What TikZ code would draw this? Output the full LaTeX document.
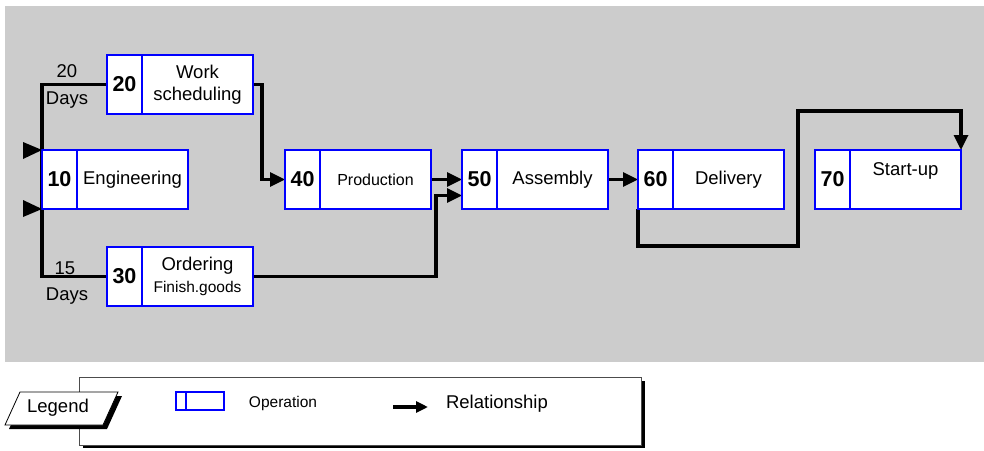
\documentclass[tikz,border=0pt]{standalone}
\usepackage{fontspec}
\setmainfont{Liberation Sans}
\usetikzlibrary{positioning,arrows.meta,backgrounds}

\definecolor{panelgray}{RGB}{204,204,204}
\newcommand{\opfont}{\fontsize{18.5}{21.5}\selectfont}
\newcommand{\numfont}{\fontsize{21.5}{24}\selectfont\bfseries}
\newcommand{\smallfont}{\fontsize{15.5}{18}\selectfont}

\tikzset{
  opnum/.style={draw=blue, line width=2.8pt, fill=white, inner sep=0pt, outer sep=0pt,
    minimum width=35pt, minimum height=59pt, font=\numfont},
  optext/.style={draw=blue, line width=2.8pt, fill=white, inner sep=0pt, outer sep=0pt,
    minimum width=111pt, minimum height=59pt, align=center, font=\opfont},
  link/.style={line width=3.2pt},
  rel/.style={link, -{Triangle[length=15pt,width=14pt]}},
}

\begin{document}
\begin{tikzpicture}[x=1pt, y=-1pt]
  \useasboundingbox (0,0) rectangle (984,450);
  %
  \node[opnum, anchor=north west] (n20num) at (107,55) {20};   % first column
  \node[optext, right=0pt of n20num] (n20) {Work\\scheduling};
  \node[opnum, anchor=north west] (n10num) at (42,150) {10};
  \node[optext, right=0pt of n10num] (n10) {Engineering};
  \node[opnum, anchor=north west] (n30num) at (107,247) {30};
  \node[optext, right=0pt of n30num] (n30)
    {Ordering\\{\fontsize{15.5}{18}\selectfont Finish.goods}};
  %
  \node[opnum, anchor=north west] (n40num) at (285,150) {40};  % main row
  \node[optext, right=0pt of n40num, font=\fontsize{16}{19}\selectfont] (n40) {Production};
  \node[opnum, anchor=north west] (n50num) at (462,150) {50};
  \node[optext, right=0pt of n50num] (n50) {Assembly};
  \node[opnum, anchor=north west] (n60num) at (638,150) {60};
  \node[optext, right=0pt of n60num] (n60) {Delivery};
  \node[opnum, anchor=north west] (n70num) at (815,150) {70};
  \node[optext, right=0pt of n70num] (n70) {Start-up\\~};
  %
  \node[font=\opfont] (d20) at (67,71) {20};                   % durations
  \node[font=\opfont] (d20u) at (67,100) {Days};
  \node[font=\opfont] (d15) at (65,268) {15};
  \node[font=\opfont] (d15u) at (67,296) {Days};
  %
  \begin{pgfonlayer}{background}
    \fill[panelgray] (5,6) rectangle (984,362);                % panel
    \draw[link] (n20num.west) -| (n10num.north west) |- (n30num.west);
    \draw[rel] (n20.east) -- ++(9,0) |- (n40num.west);
    \draw[rel] (n40.east) -- (n50num.west);
    \draw[rel] (n30.east) -| ([xshift=-26pt,yshift=-16pt]n50num.west) -- ([yshift=-16pt]n50num.west);
    \draw[rel] (n50.east) -- (n60num.west);
    \draw[rel] (n60num.south west) -- ++(0,37) -| (798,111) -| (n70.north east);
  \end{pgfonlayer}
  %
  \fill (n10num.north west) -- ++(-19,-8) -- ++(0,17) -- cycle; % start marks
  \fill (n10num.south west) -- ++(-19,-9) -- ++(0,17) -- cycle;
  %
  % legend
  \fill (83,381) rectangle (645,448);
  \draw[draw=black!70, fill=white, line width=0.8pt] (79,377) rectangle (641,445);
  \fill (9,429) -- (24,396) -- (122,396) -- (107,429) -- cycle;
  \draw[fill=white, line width=0.8pt] (5,425) -- (20,392) -- (118,392) -- (103,425) -- cycle;
  \node[font=\opfont] (legtag) at (58,408) {Legend};
  \node[draw=blue, line width=1.2pt, minimum width=48pt, minimum height=18pt,
    inner sep=0pt, outer sep=0pt] (legop) at (200,401) {};
  \draw[blue, line width=1.2pt] ([xshift=10pt]legop.north west) -- ([xshift=10pt]legop.south west);
  \node[font=\smallfont] (legoptxt) at (283,403) {Operation};
  \coordinate (legrelA) at (393,407);
  \coordinate (legrelB) at (428,407);
  \draw[link, -{Triangle[length=12pt,width=11pt]}] (legrelA) -- (legrelB);
  \node[font=\opfont] (legreltxt) at (497,404) {Relationship};
\end{tikzpicture}
\end{document}
